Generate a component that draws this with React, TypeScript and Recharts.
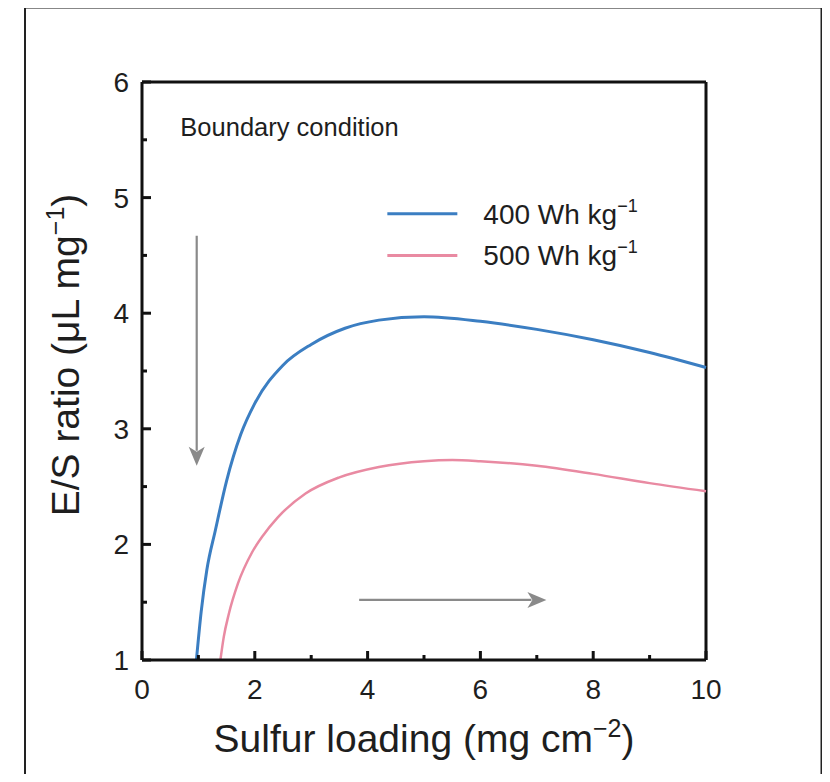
import React from "react";
import {
  Line,
  LineChart,
  ReferenceDot,
  ReferenceLine,
  XAxis,
  YAxis,
} from "recharts";

// loading (mg cm-2) vs E/S ratio (uL mg-1)
const blueLoading = [0.965, 1.05, 1.15, 1.3, 1.5, 1.75, 2.0, 2.5, 3.0, 3.6, 4.2, 5.0, 6.0, 7.0, 8.0, 9.0, 10.0];
const blueRatio = [1.0, 1.42, 1.78, 2.12, 2.55, 2.95, 3.22, 3.55, 3.73, 3.87, 3.94, 3.97, 3.93, 3.86, 3.77, 3.66, 3.53];

const pinkLoading = [1.39, 1.45, 1.54, 1.7, 1.95, 2.15, 2.4, 2.9, 3.5, 4.2, 5.0, 5.5, 6.0, 7.0, 8.0, 9.0, 10.0];
const pinkRatio = [1.0, 1.2, 1.4, 1.66, 1.93, 2.08, 2.23, 2.44, 2.58, 2.67, 2.72, 2.73, 2.72, 2.68, 2.61, 2.53, 2.46];

const xTicks = [0, 1, 2, 3, 4, 5, 6, 7, 8, 9, 10];
const yTicks = [1, 1.5, 2, 2.5, 3, 3.5, 4, 4.5, 5, 5.5, 6];

const seriesNames = ["400 Wh kg", "500 Wh kg"];
const BLUE = "#3b7ec2";
const PINK = "#e98aa2";
const FONT = "'Liberation Sans', Arial, Helvetica, sans-serif";
const INK = "#1e1e1e";

const blueData = blueLoading.map((x, i) => ({ x, y: blueRatio[i] }));
const pinkData = pinkLoading.map((x, i) => ({ x, y: pinkRatio[i] }));

// tickSize=1 + tickMargin=1 -> tick props sit 2px outside the axis line
const GAP = 2;

const XTick = (props: any) => {
  const { x, payload } = props;
  const y = props.y - GAP;
  const v = payload.value;
  const major = v % 2 === 0;
  return (
    <g>
      <line x1={x} y1={y} x2={x} y2={y - (major ? 9 : 5)} stroke="#111" strokeWidth={3} />
      {major && (
        <text x={x} y={y + 39} textAnchor="middle" fontSize={28} fontFamily={FONT} fill={INK}>
          {v}
        </text>
      )}
    </g>
  );
};

const YTick = (props: any) => {
  const { y, payload } = props;
  const x = props.x + GAP;
  const v = payload.value;
  const major = Number.isInteger(v);
  return (
    <g>
      <line x1={x} y1={y} x2={x + (major ? 9 : 5)} y2={y} stroke="#111" strokeWidth={3} />
      {major && (
        <text x={x - 13} y={y + 10} textAnchor="end" fontSize={28} fontFamily={FONT} fill={INK}>
          {v}
        </text>
      )}
    </g>
  );
};

const Arrow = (props: any) => {
  const { x1, y1, x2, y2 } = props;
  const dx = x2 - x1;
  const dy = y2 - y1;
  const len = Math.sqrt(dx * dx + dy * dy);
  const ux = dx / len;
  const uy = dy / len;
  const head = 19;
  const half = 8;
  const bx = x2 - ux * head;
  const by = y2 - uy * head;
  return (
    <g>
      <line x1={x1} y1={y1} x2={bx + ux * 4} y2={by + uy * 4} stroke="#8a8a8a" strokeWidth={2.2} />
      <polygon
        points={`${x2},${y2} ${bx - uy * half},${by + ux * half} ${bx + ux * 5},${by + uy * 5} ${bx + uy * half},${by - ux * half}`}
        fill="#8a8a8a"
      />
    </g>
  );
};

const LegendEntry = (idx: number) => (p: any) => (
  <g>
    <line x1={p.cx} y1={p.cy} x2={p.cx + 70} y2={p.cy} stroke={idx === 0 ? BLUE : PINK} strokeWidth={3} />
    <text x={p.cx + 96} y={p.cy + 10} fontSize={28} fontFamily={FONT} fill={INK}>
      {seriesNames[idx]}
      <tspan dy={-12} fontSize={18}>−1</tspan>
    </text>
  </g>
);

export default function App() {
  return (
    <div
      style={{
        position: "relative",
        width: 830,
        height: 782,
        margin: "-8px 0 -8px -8px",
        background: "#fff",
        overflow: "hidden",
      }}
    >
      <LineChart
        width={830}
        height={782}
        margin={{ top: 82, right: 124, left: 82, bottom: 72 }}
      >
        <XAxis
          dataKey="x"
          type="number"
          domain={[0, 10]}
          ticks={xTicks}
          interval={0}
          tickSize={1}
          tickMargin={1}
          tickLine={false}
          tick={<XTick />}
          height={50}
          axisLine={{ stroke: "#111", strokeWidth: 3 }}
          allowDuplicatedCategory={false}
        />
        <YAxis
          type="number"
          domain={[1, 6]}
          ticks={yTicks}
          interval={0}
          tickSize={1}
          tickMargin={1}
          tickLine={false}
          tick={<YTick />}
          width={60}
          axisLine={{ stroke: "#111", strokeWidth: 3 }}
        />
        <ReferenceLine y={6} stroke="#111" strokeWidth={3} ifOverflow="visible" />
        <ReferenceLine x={10} stroke="#111" strokeWidth={3} ifOverflow="visible" />
        <Line
          data={blueData}
          dataKey="y"
          name={seriesNames[0]}
          type="monotone"
          stroke={BLUE}
          strokeWidth={3}
          dot={false}
          isAnimationActive={false}
        />
        <Line
          data={pinkData}
          dataKey="y"
          name={seriesNames[1]}
          type="monotone"
          stroke={PINK}
          strokeWidth={2.5}
          dot={false}
          isAnimationActive={false}
        />
        <ReferenceLine
          segment={[
            { x: 0.97, y: 4.67 },
            { x: 0.97, y: 2.68 },
          ]}
          shape={<Arrow />}
        />
        <ReferenceLine
          segment={[
            { x: 3.85, y: 1.52 },
            { x: 7.17, y: 1.52 },
          ]}
          shape={<Arrow />}
        />
        <ReferenceDot
          x={0.68}
          y={5.53}
          r={0}
          shape={(p: any) => (
            <text x={p.cx} y={p.cy} fontSize={25.5} fontFamily={FONT} fill={INK}>
              Boundary condition
            </text>
          )}
        />
        <ReferenceDot x={4.35} y={4.86} r={0} shape={LegendEntry(0)} />
        <ReferenceDot x={4.35} y={4.5} r={0} shape={LegendEntry(1)} />
      </LineChart>
      <svg width={830} height={782} style={{ position: "absolute", left: 0, top: 0, pointerEvents: "none" }}>
        <line x1={24} y1={7} x2={823} y2={7} stroke="#111" strokeWidth={3} />
        <line x1={822} y1={6} x2={822} y2={779} stroke="#222" strokeWidth={3} />
        <line x1={25} y1={6} x2={25} y2={779} stroke="#222" strokeWidth={2} />
        <line x1={25} y1={779} x2={822} y2={779} stroke="#aaa" strokeWidth={2} />
        <text
          transform="translate(79 355) rotate(-90)"
          textAnchor="middle"
          fontSize={39}
          fontFamily={FONT}
          fill={INK}
        >
          E/S ratio (μL mg
          <tspan dy={-15} fontSize={25}>−1</tspan>
          <tspan dy={15}>)</tspan>
        </text>
        <text x={424} y={752} textAnchor="middle" fontSize={39} fontFamily={FONT} fill={INK}>
          Sulfur loading (mg cm
          <tspan dy={-15} fontSize={25}>−2</tspan>
          <tspan dy={15}>)</tspan>
        </text>
      </svg>
    </div>
  );
}
